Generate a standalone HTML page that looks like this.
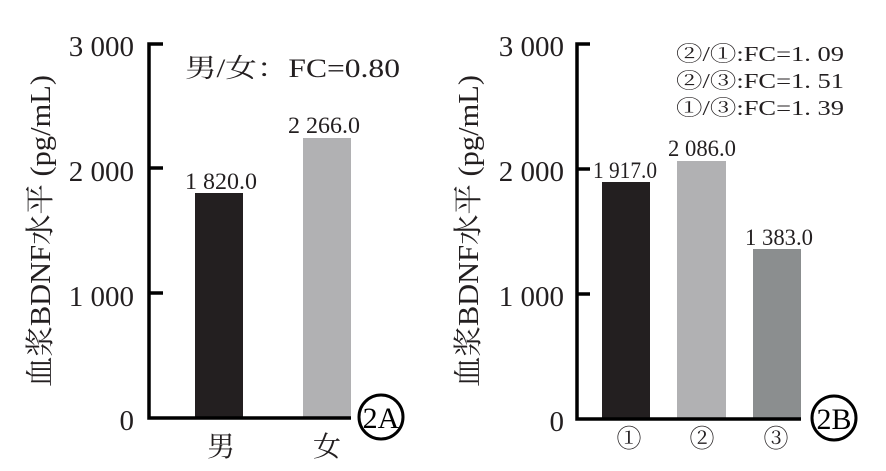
<html><body style="margin:0;background:#fff">
<svg width="886" height="471" xmlns="http://www.w3.org/2000/svg" font-family="Liberation Serif, Noto Serif CJK SC, serif">
<g>
<rect x="195" y="193" width="48" height="225" fill="#231f20"/>
<rect x="303" y="138" width="48" height="280" fill="#b1b1b3"/>
<path d="M163,44H149V418H351 M149,168H163 M149,293H163" stroke="#000" stroke-width="3.5" fill="none"/>
<g font-size="29" text-anchor="end" fill="#231f20">
<text x="134" y="56">3 000</text><text x="134" y="181">2 000</text><text x="134" y="306">1 000</text><text x="134" y="430">0</text>
</g>
<text transform="translate(50,387) rotate(-90)" font-size="29" fill="#231f20" textLength="312" lengthAdjust="spacingAndGlyphs">血浆BDNF水平 (pg/mL)</text>
<g font-size="23" fill="#231f20"><text x="185" y="189" textLength="72" lengthAdjust="spacingAndGlyphs">1 820.0</text><text x="288" y="133" textLength="72" lengthAdjust="spacingAndGlyphs">2 266.0</text></g>
<text x="185" y="77" font-size="26" fill="#231f20" textLength="215" lengthAdjust="spacingAndGlyphs">男/女：FC=0.80</text>
<g font-size="28" text-anchor="middle" fill="#231f20"><text x="221" y="456">男</text><text x="327" y="456">女</text></g>
<circle cx="381" cy="417" r="22" fill="none" stroke="#000" stroke-width="3"/>
<text x="381" y="428" font-size="30" text-anchor="middle">2A</text>
</g>
<g>
<rect x="602" y="182" width="48" height="237" fill="#231f20"/>
<rect x="677" y="161" width="49" height="258" fill="#b1b1b3"/>
<rect x="753" y="249" width="48" height="170" fill="#8b8e8f"/>
<path d="M590,44H577V419H801 M577,169H590 M577,294H590" stroke="#000" stroke-width="3.5" fill="none"/>
<g font-size="29" text-anchor="end" fill="#231f20">
<text x="564" y="56">3 000</text><text x="564" y="181">2 000</text><text x="564" y="306">1 000</text><text x="564" y="431">0</text>
</g>
<text transform="translate(478,387) rotate(-90)" font-size="29" fill="#231f20" textLength="312" lengthAdjust="spacingAndGlyphs">血浆BDNF水平 (pg/mL)</text>
<g font-size="23" fill="#231f20"><text x="593" y="178" textLength="64" lengthAdjust="spacingAndGlyphs">1 917.0</text><text x="668" y="156" textLength="68" lengthAdjust="spacingAndGlyphs">2 086.0</text><text x="745" y="245" textLength="68" lengthAdjust="spacingAndGlyphs">1 383.0</text></g>
<g font-size="21" fill="#231f20"><text x="676" y="61" textLength="168" lengthAdjust="spacingAndGlyphs">②/①:FC=1. 09</text><text x="676" y="88" textLength="168" lengthAdjust="spacingAndGlyphs">②/③:FC=1. 51</text><text x="676" y="115" textLength="168" lengthAdjust="spacingAndGlyphs">①/③:FC=1. 39</text></g>
<g font-size="25" text-anchor="middle" fill="#231f20"><text x="629" y="447">①</text><text x="702" y="447">②</text><text x="776" y="447">③</text></g>
<circle cx="834" cy="418" r="22" fill="none" stroke="#000" stroke-width="3"/>
<text x="834" y="429" font-size="30" text-anchor="middle">2B</text>
</g>
</svg>
</body></html>
